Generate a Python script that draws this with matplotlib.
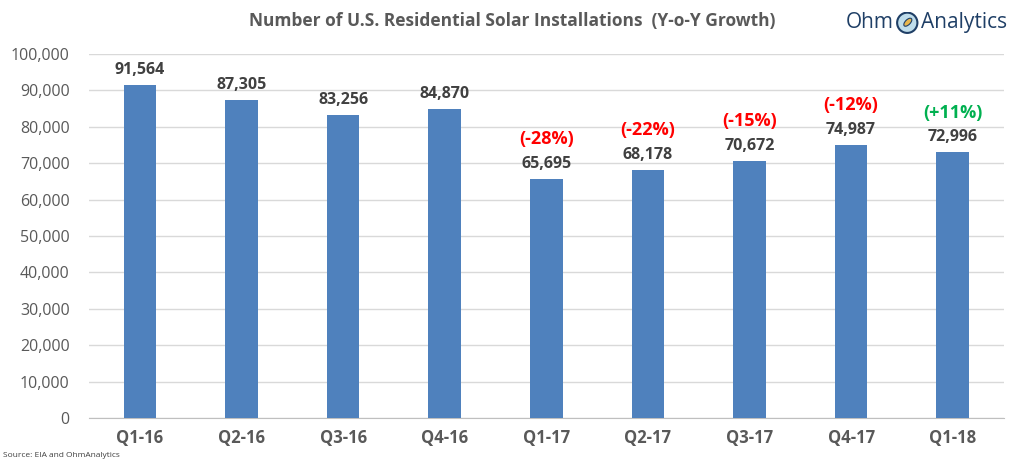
import matplotlib
matplotlib.use("Agg")
import matplotlib.pyplot as plt
from matplotlib.patches import Circle, Ellipse

quarters = ["Q1-16", "Q2-16", "Q3-16", "Q4-16", "Q1-17", "Q2-17", "Q3-17", "Q4-17", "Q1-18"]
installs = [91564, 87305, 83256, 84870, 65695, 68178, 70672, 74987, 72996]
growth = [None, None, None, None, "(-28%)", "(-22%)", "(-15%)", "(-12%)", "(+11%)"]
growth_pos = [False, False, False, False, False, False, False, False, True]

plt.rcParams["font.family"] = ["Open Sans", "DejaVu Sans"]

fig = plt.figure(figsize=(10.24, 4.65), dpi=100)
ax = fig.add_axes([0.087, 0.101, 0.893, 0.783])

x = range(len(quarters))
ax.bar(x, installs, width=0.32, color="#4F81BD", zorder=3)

ax.set_ylim(0, 100000)
ax.set_xlim(-0.5, len(quarters) - 0.5)
ax.set_yticks(range(0, 100001, 10000))
ax.set_yticklabels([f"{v:,}" for v in range(0, 100001, 10000)], fontsize=11.5, color="#595959")
ax.set_xticks(list(x))
ax.set_xticklabels(quarters, fontsize=12, fontweight="bold", color="#595959")
ax.tick_params(axis="both", length=0)
ax.tick_params(axis="y", pad=14)
ax.tick_params(axis="x", pad=8)
ax.grid(axis="y", color="#D9D9D9", linewidth=1, zorder=0)
for s in ["left", "right", "top"]:
    ax.spines[s].set_visible(False)
ax.spines["bottom"].set_color("#BFBFBF")

for i, v in enumerate(installs):
    ax.annotate(f"{v:,}", (i, v), xytext=(0, 5), textcoords="offset points",
                ha="center", va="bottom", fontsize=11.5, fontweight="bold", color="#404040")
    if growth[i]:
        ax.annotate(growth[i], (i, v), xytext=(0, 22), textcoords="offset points",
                    ha="center", va="bottom", fontsize=13, fontweight="bold",
                    color="#00B050" if growth_pos[i] else "#FF0000")

fig.text(0.5, 0.955, "Number of U.S. Residential Solar Installations  (Y-o-Y Growth)",
         ha="center", va="center", fontsize=12.5, fontweight="bold", color="#595959")
fig.text(0.003, 0.012, "Source: EIA and OhmAnalytics", fontsize=6, color="#404040", va="bottom")

# logo
fig.text(0.873, 0.951, "Ohm", fontsize=15, color="#1F3F66", va="center", ha="right")
fig.text(0.899, 0.951, "Analytics", fontsize=15, color="#1F3F66", va="center", ha="left")
lax = fig.add_axes([0.875, 0.921, 0.022, 0.06])
lax.set_xlim(-1, 1)
lax.set_ylim(-1, 1)
lax.set_aspect("equal")
lax.axis("off")
lax.add_patch(Circle((0, 0), 0.9, facecolor="#BFDDEB", edgecolor="#1F3F66", linewidth=1.5))
lax.add_patch(Ellipse((0.05, 0.05), 0.9, 0.45, angle=45, facecolor="#E8B64C", edgecolor="#1F3F66", linewidth=0.8))

fig.savefig("out.png", dpi=100)
